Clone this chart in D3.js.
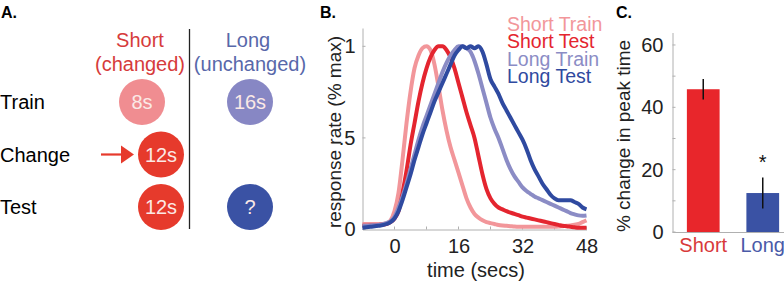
<!DOCTYPE html>
<html lang="en">
<head>
    <meta charset="UTF-8">
    <title>peak time</title>
    <script src="https://d3js.org/d3.v7.min.js"></script>
    <style>
        body { margin: 0; background: #fff; }
        svg { display: block; }
        svg text { font-family: Arial, "Liberation Sans", sans-serif; }
    </style>
</head>
<body>
    <div class="canvas"></div>
    <script>
      const width = 784;
      const height = 285;

      // ---- panel A ----
      const rowNames = ['Train', 'Change', 'Test'];
      const colNames = [['Short', '(changed)'], ['Long', '(unchanged)']];
      const schedule = [
        { col: 0, row: 'Train', label: '8s', fill: '#f08d91' },
        { col: 1, row: 'Train', label: '16s', fill: '#8787c4' },
        { col: 0, row: 'Change', label: '12s', fill: '#e63a2c', shift: true },
        { col: 0, row: 'Test', label: '12s', fill: '#e63a2c', shift: true },
        { col: 1, row: 'Test', label: '?', fill: '#3a52a4' }
      ];

      // ---- panel B ----
      const tSecs = [-8, -6, -4, -2, -1, 0, 1, 2, 3, 4, 5, 6, 7, 8, 9, 10, 11, 12, 13, 14, 15, 16, 17, 18, 19, 20,
                     21, 22, 23, 24, 25, 26, 27, 28, 29, 30, 31, 32, 33, 34, 35, 36, 37, 38, 39, 40, 41, 42, 43, 44, 45, 46, 47, 48];
      const shortTrain = [0.03, 0.03, 0.03, 0.035, 0.05, 0.1, 0.2, 0.38, 0.58, 0.75, 0.88, 0.95, 0.99, 1.0, 0.98, 0.9, 0.78, 0.65, 0.54, 0.45, 0.38, 0.31,
                          0.24, 0.17, 0.12, 0.085, 0.065, 0.05, 0.04, 0.035, 0.03, 0.025, 0.022, 0.02, 0.018, 0.016, 0.015, 0.015, 0.015, 0.015, 0.015, 0.015,
                          0.015, 0.015, 0.015, 0.015, 0.016, 0.018, 0.02, 0.022, 0.026, 0.03, 0.04, 0.05];
      const shortTest = [0.02, 0.022, 0.025, 0.03, 0.04, 0.06, 0.1, 0.2, 0.32, 0.46, 0.58, 0.7, 0.8, 0.88, 0.94, 0.98, 1.0, 1.0, 0.98, 0.94, 0.88, 0.8,
                         0.72, 0.64, 0.57, 0.5, 0.4, 0.3, 0.22, 0.17, 0.14, 0.12, 0.11, 0.1, 0.092, 0.085, 0.078, 0.07, 0.065, 0.06, 0.055, 0.05,
                         0.045, 0.04, 0.035, 0.03, 0.025, 0.02, 0.018, 0.015, 0.012, 0.01, 0.01, 0.01];
      const longTrain = [0.02, 0.022, 0.025, 0.035, 0.045, 0.07, 0.12, 0.18, 0.25, 0.33, 0.41, 0.49, 0.56, 0.62, 0.68, 0.74, 0.8, 0.86, 0.91, 0.95, 0.98, 1.0,
                         1.0, 0.99, 0.97, 0.92, 0.85, 0.77, 0.69, 0.61, 0.55, 0.5, 0.44, 0.38, 0.33, 0.29, 0.26, 0.23, 0.21, 0.195, 0.18, 0.17,
                         0.16, 0.15, 0.14, 0.13, 0.12, 0.11, 0.1, 0.09, 0.083, 0.077, 0.075, 0.077];
      const longTest = [0.01, 0.015, 0.02, 0.03, 0.04, 0.06, 0.1, 0.16, 0.23, 0.3, 0.38, 0.45, 0.52, 0.58, 0.64, 0.7, 0.75, 0.8, 0.85, 0.9, 0.95, 0.98,
                        1.0, 0.99, 1.0, 0.99, 1.0, 0.97, 0.9, 0.82, 0.78, 0.74, 0.69, 0.65, 0.61, 0.57, 0.53, 0.49, 0.44, 0.38, 0.33, 0.29,
                        0.25, 0.22, 0.19, 0.17, 0.16, 0.16, 0.16, 0.16, 0.15, 0.14, 0.12, 0.11];
      const curveNames = ['Short Train', 'Short Test', 'Long Train', 'Long Test'];
      const curveColors = ['#f2969a', '#e4252f', '#8b8cc5', '#2f4aa0'];
      const xTicksB = [0, 16, 32, 48];
      const xMinorB = [8, 24, 40];
      const yTicksB = [0, 0.5, 1];

      // ---- panel C ----
      const groups = ['Short', 'Long'];
      const pctChange = [45.8, 12.5];
      const pctErr = [3.3, 5.0];
      const barColors = ['#e8262b', '#3a52a4'];
      const labelColors = ['#d83a3a', '#4a5aa8'];
      const yTicksC = [0, 20, 40, 60];
      const yMinorC = [10, 30, 50];

      const svg = d3.select('.canvas')
                      .append('svg')
                      .attr('width', width)
                      .attr('height', height);

      /*------------------------- A -------------------------*/
      const gA = svg.append('g');
      gA.append('text').attr('x', 1).attr('y', 18).attr('font-size', 16).attr('font-weight', 'bold').text('A.');

      const rowY = d3.scalePoint().domain(rowNames).range([102, 207]);
      const colX = d3.scalePoint().domain([0, 1]).range([142, 250]);

      gA.selectAll('text.row').data(rowNames).enter()
        .append('text').attr('class', 'row')
        .attr('x', 0).attr('y', d => rowY(d) + 7)
        .attr('font-size', 20).text(d => d);

      colNames.forEach((c, i) => {
        gA.append('text').attr('x', colX(i) - 2).attr('y', 47)
          .attr('text-anchor', 'middle').attr('font-size', 20)
          .attr('fill', i ? '#5868aa' : '#d63b3b').text(c[0]);
        gA.append('text').attr('x', colX(i) - (i ? 0 : 2)).attr('y', 71)
          .attr('text-anchor', 'middle').attr('font-size', 20)
          .attr('fill', i ? '#5868aa' : '#d63b3b').text(c[1]);
      });

      gA.append('line').attr('x1', 189.5).attr('x2', 189.5).attr('y1', 29).attr('y2', 229)
        .attr('stroke', '#222').attr('stroke-width', 1.3);

      const circ = gA.selectAll('g.circ').data(schedule).enter()
        .append('g').attr('class', 'circ')
        .attr('transform', d => `translate(${colX(d.col) + (d.shift ? 19 : 0)}, ${rowY(d.row)})`);
      circ.append('circle').attr('r', 23).attr('fill', d => d.fill);
      circ.append('text').attr('text-anchor', 'middle').attr('dy', 7)
        .attr('font-size', 20).attr('fill', '#fbe9e6').text(d => d.label);

      // arrow into the changed circle
      const arrowY = rowY('Change');
      gA.append('line').attr('x1', 101).attr('x2', 124).attr('y1', arrowY).attr('y2', arrowY)
        .attr('stroke', '#e63a2c').attr('stroke-width', 2.2);
      gA.append('path').attr('d', `M${121},${arrowY - 9} L${134},${arrowY} L${121},${arrowY + 9} Z`)
        .attr('fill', '#e63a2c');

      /*------------------------- B -------------------------*/
      const gB = svg.append('g');
      gB.append('text').attr('x', 320).attr('y', 18).attr('font-size', 16).attr('font-weight', 'bold').text('B.');

      const xB = d3.scaleLinear().domain([-8, 48]).range([362.5, 586.5]);
      const yB = d3.scaleLinear().domain([0, 1.1]).range([229.5, 28]);

      const xAxisB = d3.axisBottom(xB).tickValues(xTicksB).tickSize(0).tickPadding(9).tickFormat(d3.format('d'));
      const gxB = gB.append('g').attr('transform', `translate(0, ${yB(0)})`).call(xAxisB);
      gxB.select('.domain').attr('stroke', '#b0b0b0');
      gxB.selectAll('text').attr('font-size', 20).attr('fill', '#222');
      gB.selectAll('line.xm').data(xTicksB.concat(xMinorB)).enter()
        .append('line').attr('class', 'xm')
        .attr('x1', d => xB(d)).attr('x2', d => xB(d))
        .attr('y1', yB(0)).attr('y2', yB(0) - 3).attr('stroke', '#b0b0b0');

      const yAxisB = d3.axisLeft(yB).tickValues(yTicksB).tickSize(0).tickPadding(7)
                        .tickFormat(d => d === 0.5 ? '.5' : d);
      const gyB = gB.append('g').attr('transform', `translate(${xB(-8)}, 0)`).call(yAxisB);
      gyB.select('.domain').attr('stroke', '#b0b0b0');
      gyB.selectAll('text').attr('font-size', 20).attr('fill', '#222');
      gB.selectAll('line.ym').data(yTicksB).enter()
        .append('line').attr('class', 'ym')
        .attr('x1', xB(-8)).attr('x2', xB(-8) + 3)
        .attr('y1', d => yB(d)).attr('y2', d => yB(d)).attr('stroke', '#b0b0b0');

      const line = d3.line()
                      .x((d, i) => xB(tSecs[i]))
                      .y(d => yB(d))
                      .curve(d3.curveMonotoneX);

      [shortTrain, shortTest, longTrain, longTest].forEach((s, i) => {
        gB.append('path')
          .attr('fill', 'none')
          .attr('stroke', curveColors[i])
          .attr('stroke-width', 4)
          .attr('stroke-linejoin', 'round')
          .attr('d', line(s));
      });

      gB.selectAll('text.leg').data(curveNames).enter()
        .append('text').attr('class', 'leg')
        .attr('x', 507).attr('y', (d, i) => 31 + i * 17.3)
        .attr('font-size', 19.5).attr('fill', (d, i) => curveColors[i])
        .text(d => d);

      gB.append('text').attr('transform', `translate(341, 132) rotate(-90)`)
        .attr('text-anchor', 'middle').attr('font-size', 19).attr('fill', '#222')
        .text('response rate (% max)');
      gB.append('text').attr('x', 476).attr('y', 277)
        .attr('text-anchor', 'middle').attr('font-size', 20).attr('fill', '#222')
        .text('time (secs)');

      /*------------------------- C -------------------------*/
      const gC = svg.append('g');
      gC.append('text').attr('x', 616).attr('y', 18).attr('font-size', 16).attr('font-weight', 'bold').text('C.');

      const xC = d3.scaleBand().domain(groups).range([672, 794]).paddingInner(0.45).paddingOuter(0.25);
      const yC = d3.scaleLinear().domain([0, 64]).range([232, 32.5]);

      const yAxisC = d3.axisLeft(yC).tickValues(yTicksC).tickSize(0).tickPadding(9);
      const gyC = gC.append('g').attr('transform', `translate(672.5, 0)`).call(yAxisC);
      gyC.select('.domain').attr('stroke', '#b0b0b0');
      gyC.selectAll('text').attr('font-size', 20).attr('fill', '#222');
      gC.selectAll('line.ym').data(yTicksC.concat(yMinorC)).enter()
        .append('line').attr('class', 'ym')
        .attr('x1', 672.5).attr('x2', 675.5)
        .attr('y1', d => yC(d)).attr('y2', d => yC(d)).attr('stroke', '#b0b0b0');
      gC.append('line').attr('x1', 672.5).attr('x2', width).attr('y1', yC(0) + 0.5).attr('y2', yC(0) + 0.5)
        .attr('stroke', '#b0b0b0');

      gC.selectAll('rect').data(groups).enter()
        .append('rect')
        .attr('x', d => xC(d))
        .attr('width', xC.bandwidth())
        .attr('y', (d, i) => yC(pctChange[i]))
        .attr('height', (d, i) => yC(0) - yC(pctChange[i]))
        .attr('fill', (d, i) => barColors[i]);

      gC.selectAll('line.err').data(groups).enter()
        .append('line').attr('class', 'err')
        .attr('x1', d => xC(d) + xC.bandwidth() / 2).attr('x2', d => xC(d) + xC.bandwidth() / 2)
        .attr('y1', (d, i) => yC(pctChange[i] - pctErr[i]))
        .attr('y2', (d, i) => yC(pctChange[i] + pctErr[i]))
        .attr('stroke', '#111').attr('stroke-width', 1.5);

      gC.selectAll('text.grp').data(groups).enter()
        .append('text').attr('class', 'grp')
        .attr('x', d => xC(d) + xC.bandwidth() / 2).attr('y', 252)
        .attr('text-anchor', 'middle').attr('font-size', 20)
        .attr('fill', (d, i) => labelColors[i]).text(d => d);

      gC.append('text')
        .attr('x', xC('Long') + xC.bandwidth() / 2).attr('y', yC(pctChange[1] + pctErr[1]) - 8)
        .attr('text-anchor', 'middle').attr('font-size', 20).attr('fill', '#111').text('*');

      gC.append('text').attr('transform', `translate(630, 136) rotate(-90)`)
        .attr('text-anchor', 'middle').attr('font-size', 19).attr('fill', '#222')
        .text('% change in peak time');
    </script>
</body>
</html>
